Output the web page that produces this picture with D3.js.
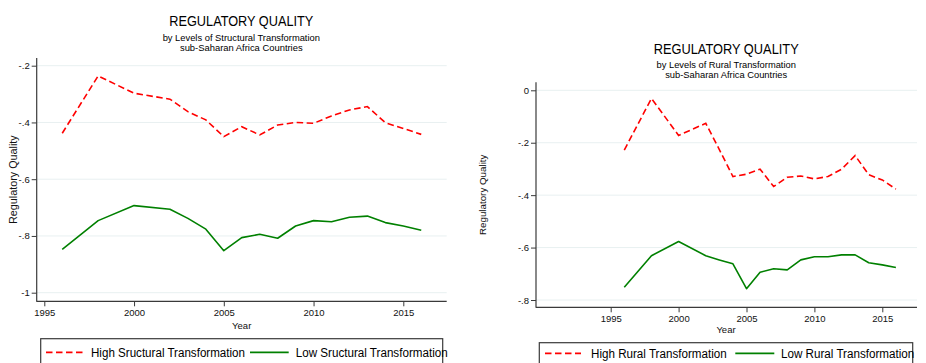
<!DOCTYPE html>
<html>
<head>
<meta charset="utf-8">
<script src="https://cdn.jsdelivr.net/npm/d3@7"></script>
<style>
  html, body { margin: 0; padding: 0; background: #fff; }
  svg { display: block; font-family: "Liberation Sans", Arial, Helvetica, sans-serif; }
</style>
</head>
<body>
<svg id="chart" width="926" height="363"></svg>
<script>
// Survey years (WGI: biennial until 2002, annual afterwards)
const years = [1996, 1998, 2000, 2002, 2003, 2004, 2005, 2006, 2007, 2008, 2009, 2010, 2011, 2012, 2013, 2014, 2015, 2016];

// Regulatory quality by level of structural transformation
const highStructural = [-0.438, -0.236, -0.297, -0.318, -0.362, -0.391, -0.450, -0.415, -0.444, -0.409, -0.400, -0.403, -0.377, -0.356, -0.344, -0.401, -0.421, -0.442];
const lowStructural  = [-0.847, -0.746, -0.693, -0.706, -0.738, -0.776, -0.852, -0.806, -0.794, -0.808, -0.765, -0.746, -0.750, -0.734, -0.730, -0.753, -0.765, -0.780];

// Regulatory quality by level of rural transformation
const highRural = [-0.228, -0.031, -0.172, -0.126, -0.226, -0.329, -0.320, -0.301, -0.367, -0.332, -0.327, -0.338, -0.329, -0.301, -0.249, -0.322, -0.342, -0.377];
const lowRural  = [-0.751, -0.631, -0.577, -0.631, -0.647, -0.662, -0.757, -0.694, -0.681, -0.685, -0.647, -0.635, -0.635, -0.628, -0.628, -0.658, -0.666, -0.676];

// Tick values and labels
const xTicks = [1995, 2000, 2005, 2010, 2015];
const leftYTicks = [-1, -0.8, -0.6, -0.4, -0.2];
const leftYLabels = ["-1", "-.8", "-.6", "-.4", "-.2"];
const rightYTicks = [-0.8, -0.6, -0.4, -0.2, 0];
const rightYLabels = ["-.8", "-.6", "-.4", "-.2", "0"];

const titleText = "REGULATORY QUALITY";
const leftSubtitles = ["by Levels of Structural Transformation", "sub-Saharan Africa Countries"];
const rightSubtitles = ["by Levels of Rural Transformation", "sub-Saharan Africa Countries"];
const leftLegend = ["High Sructural Transformation", "Low Sructural Transformation"];
const rightLegend = ["High Rural Transformation", "Low Rural Transformation"];

const RED = "#ff0000", GREEN = "#008000", AXIS = "#3a3a3a", GRID = "#e8f0f1";

const svg = d3.select("#chart");

function text(g, x, y, str, opts) {
  const t = g.append("text")
    .attr("x", x).attr("y", y)
    .attr("font-size", opts.size)
    .attr("fill", opts.fill || "#000")
    .attr("text-anchor", opts.anchor || "middle")
    .text(str);
  if (opts.len) t.attr("textLength", opts.len).attr("lengthAdjust", "spacingAndGlyphs");
  if (opts.rotate) t.attr("transform", `rotate(${opts.rotate},${x},${y})`);
  return t;
}

function panel(cfg) {
  const g = svg.append("g");
  const x = d3.scaleLinear().domain([1995, 2015]).range(cfg.xRange);
  const y = d3.scaleLinear().domain(cfg.yDomain).range(cfg.yRange);
  const [L, R, T, B] = cfg.box;

  // titles
  text(g, cfg.cx, cfg.titleY, titleText, { size: 14.5, len: cfg.titleLen });
  cfg.subs.forEach((s, i) => text(g, cfg.cx, cfg.subY[i], s, { size: 9.3, len: cfg.subLen[i] }));

  // gridlines
  g.append("g").selectAll("line").data(cfg.yTicks).join("line")
    .attr("x1", L).attr("x2", R)
    .attr("y1", d => y(d)).attr("y2", d => y(d))
    .attr("stroke", GRID).attr("stroke-width", 1);

  // y axis
  const ya = g.append("g").attr("transform", `translate(${L},0)`)
    .call(d3.axisLeft(y).tickValues(cfg.yTicks).tickSize(5).tickPadding(2)
      .tickFormat((d, i) => cfg.yLabels[i]));
  ya.select(".domain").remove();
  ya.selectAll(".tick line").attr("stroke", AXIS);
  ya.selectAll(".tick text").attr("font-size", 9.5).attr("fill", "#111")
    .attr("font-family", "Liberation Sans, Arial, sans-serif");

  // x axis
  const xa = g.append("g").attr("transform", `translate(0,${B})`)
    .call(d3.axisBottom(x).tickValues(xTicks).tickSize(5).tickPadding(3)
      .tickFormat(d3.format("d")));
  xa.select(".domain").remove();
  xa.selectAll(".tick line").attr("stroke", AXIS);
  xa.selectAll(".tick text").attr("font-size", 9.5).attr("fill", "#111")
    .attr("font-family", "Liberation Sans, Arial, sans-serif");

  // axis lines
  g.append("line").attr("x1", L).attr("x2", L).attr("y1", T).attr("y2", B + 0.5)
    .attr("stroke", AXIS).attr("stroke-width", 1.2);
  g.append("line").attr("x1", L).attr("x2", R).attr("y1", B).attr("y2", B)
    .attr("stroke", AXIS).attr("stroke-width", 1.2);

  // axis titles
  text(g, cfg.cx2, cfg.yearY, "Year", { size: 9.5, fill: "#111" });
  text(g, cfg.ylabX, (T + B) / 2, "Regulatory Quality", { size: cfg.ylabSize, rotate: -90, fill: "#111" });

  // series
  const line = vals => d3.line().x((d, i) => x(years[i])).y(d => y(d))(vals);
  g.append("path").attr("d", line(cfg.low)).attr("fill", "none")
    .attr("stroke", GREEN).attr("stroke-width", 1.6).attr("stroke-linejoin", "round");
  g.append("path").attr("d", line(cfg.high)).attr("fill", "none")
    .attr("stroke", RED).attr("stroke-width", 1.6).attr("stroke-dasharray", "6.5,3.5");

  // legend
  const [lx, ly, lr] = cfg.legBox;
  g.append("rect").attr("x", lx).attr("y", ly).attr("width", lr - lx).attr("height", 40)
    .attr("fill", "none").attr("stroke", AXIS).attr("stroke-width", 1.2);
  const lg = cfg.leg;
  g.append("line").attr("x1", lg.s1[0]).attr("x2", lg.s1[1]).attr("y1", lg.y).attr("y2", lg.y)
    .attr("stroke", RED).attr("stroke-width", 1.8).attr("stroke-dasharray", "6.5,3.5");
  text(g, lg.t1[0], lg.ty, cfg.legText[0], { size: 12, anchor: "start", len: lg.t1[1] });
  g.append("line").attr("x1", lg.s2[0]).attr("x2", lg.s2[1]).attr("y1", lg.y).attr("y2", lg.y)
    .attr("stroke", GREEN).attr("stroke-width", 1.8);
  text(g, lg.t2[0], lg.ty, cfg.legText[1], { size: 12, anchor: "start", len: lg.t2[1] });
}

panel({
  xRange: [44.3, 403.3], yDomain: [-1, -0.2], yRange: [292.7, 65.7],
  box: [36.7, 446.7, 58, 301.3],
  yTicks: leftYTicks, yLabels: leftYLabels,
  cx: 241.3, titleY: 25.7, titleLen: 144,
  subs: leftSubtitles, subY: [41.3, 51.3], subLen: [157.3, 122.7],
  cx2: 241.7, yearY: 329.3, ylabX: 17, ylabSize: 10.8,
  high: highStructural, low: lowStructural, legText: leftLegend,
  legBox: [40.7, 338.7, 442.7],
  leg: { y: 352.3, ty: 356.7, s1: [46, 83], t1: [91, 154], s2: [250, 288.7], t2: [295.7, 152] }
});

panel({
  xRange: [610.7, 882.3], yDomain: [-0.8, 0], yRange: [300, 90.3],
  box: [536, 917, 82.3, 307.3],
  yTicks: rightYTicks, yLabels: rightYLabels,
  cx: 726.2, titleY: 54, titleLen: 145,
  subs: rightSubtitles, subY: [68, 77.7], subLen: [139.3, 122],
  cx2: 726, yearY: 333.3, ylabX: 486, ylabSize: 9.8,
  high: highRural, low: lowRural, legText: rightLegend,
  legBox: [539.3, 342.7, 912.7],
  leg: { y: 353.3, ty: 357.7, s1: [545, 581], t1: [591, 135.7], s2: [735.3, 774.3], t2: [781, 133.3] }
});
</script>
</body>
</html>
